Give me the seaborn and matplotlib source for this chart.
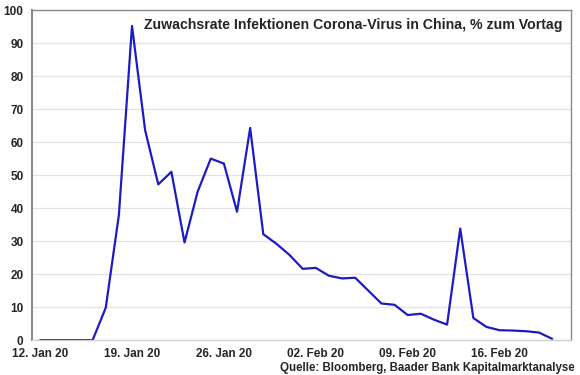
import pandas as pd
import numpy as np
import matplotlib
matplotlib.use("Agg")
import matplotlib.pyplot as plt
import seaborn as sns

# daily growth rate of infections, % vs previous day
dates = pd.date_range("2020-01-12", "2020-02-20", freq="D")
growth = [0, 0, 0, 0, 0, 9.8, 37.9, 95.2, 63.6, 47.2, 51.0, 29.6, 45.0, 55.0,
          53.5, 38.9, 64.3, 32.1, 29.2, 25.8, 21.6, 21.9, 19.5, 18.7, 18.9,
          15.0, 11.1, 10.7, 7.6, 8.0, 6.2, 4.7, 33.8, 6.7, 4.0, 3.0, 2.9,
          2.7, 2.3, 0.4]
tick_dates = pd.to_datetime(["2020-01-12", "2020-01-19", "2020-01-26",
                             "2020-02-02", "2020-02-09", "2020-02-16"])
tick_labels = ["12. Jan 20", "19. Jan 20", "26. Jan 20",
               "02. Feb 20", "09. Feb 20", "16. Feb 20"]

data = pd.DataFrame({"Datum": dates, "Zuwachs": growth})

sns.set_theme(style="white")
plt.rcParams["font.family"] = ["Liberation Sans", "DejaVu Sans"]
plt.rcParams["font.weight"] = "bold"

fig = plt.figure(figsize=(5.8, 3.75), dpi=100)
ax = fig.add_axes([0.055, 0.093, 0.929, 0.88])

sns.lineplot(data=data, x="Datum", y="Zuwachs", color="#1c1cc4", linewidth=1.6, ax=ax)

ax.set_ylim(0, 100)
ax.set_yticks(np.arange(0, 101, 10))
ax.set_xlim(pd.Timestamp("2020-01-11 09:00"), pd.Timestamp("2020-02-21 10:00"))
ax.set_xticks(tick_dates)
ax.set_xticklabels(tick_labels)
ax.grid(axis="y", color="#e2e2e2", linewidth=0.9)
ax.tick_params(axis="y", labelsize=8.5, pad=6, length=0)
ax.tick_params(axis="x", labelsize=8.5, pad=4, length=2, color="#c8c8c8")
for lbl in ax.get_xticklabels() + ax.get_yticklabels():
    lbl.set_fontweight("bold")
ax.set_xlabel("")
ax.set_ylabel("")

for side in ["top", "right", "bottom", "left"]:
    ax.spines[side].set_color("#8a8a8a")
    ax.spines[side].set_linewidth(1.0)
ax.spines["left"].set_linewidth(1.5)
ax.spines["bottom"].set_color("#d0d0d0")

ax.text(0.985, 0.975, "Zuwachsrate Infektionen Corona-Virus in China, % zum Vortag",
        transform=ax.transAxes, ha="right", va="top", fontsize=10.2, fontweight="bold")
fig.text(0.99, 0.004, "Quelle: Bloomberg, Baader Bank Kapitalmarktanalyse",
         ha="right", va="bottom", fontsize=8.3, fontweight="bold")

fig.savefig("out.png", dpi=100)
